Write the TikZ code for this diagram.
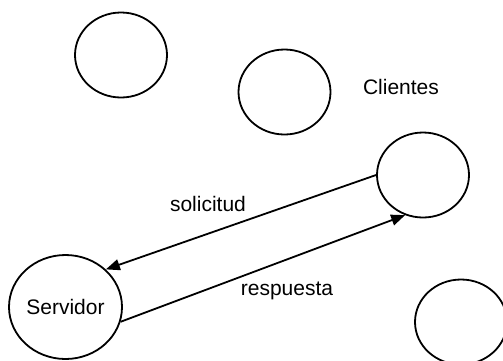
\documentclass[tikz,border=0pt]{standalone}
\usepackage{fontspec}
\setmainfont{Liberation Sans}
\usetikzlibrary{shapes.geometric,arrows.meta}

\begin{document}
\begin{tikzpicture}[x=1pt, y=-1pt, line width=1.8pt,
    every node/.style={font=\fontsize{21}{25}\selectfont},
    host/.style={draw, ellipse, inner sep=0pt, minimum width=92pt, minimum height=85pt},
    msg/.style={-{Triangle[length=14pt,width=11pt]}}]
    \useasboundingbox (0,0) rectangle (503,360);

    % --- clients (name, centre) ---
    \foreach \n/\x/\y in {c1/121/55, c2/284.5/92, c3/423/175, c4/461/322}{
      \node[host] (\n) at (\x,\y) {};
    }
    \node (clientes) at (401,87) {Clientes};

    % --- server ---
    \node[host, minimum width=113pt, minimum height=104pt] (serv) at (65.5,307) {Servidor};

    % --- request and reply ---
    \draw[msg] (c3.west) -- (serv.43);
    \draw[msg] (serv.-15) -- (c3.246);
    \node (solicitud) at (208,204) {solicitud};
    \node (respuesta) at (287,291) {respuesta};
  \end{tikzpicture}
\end{document}
